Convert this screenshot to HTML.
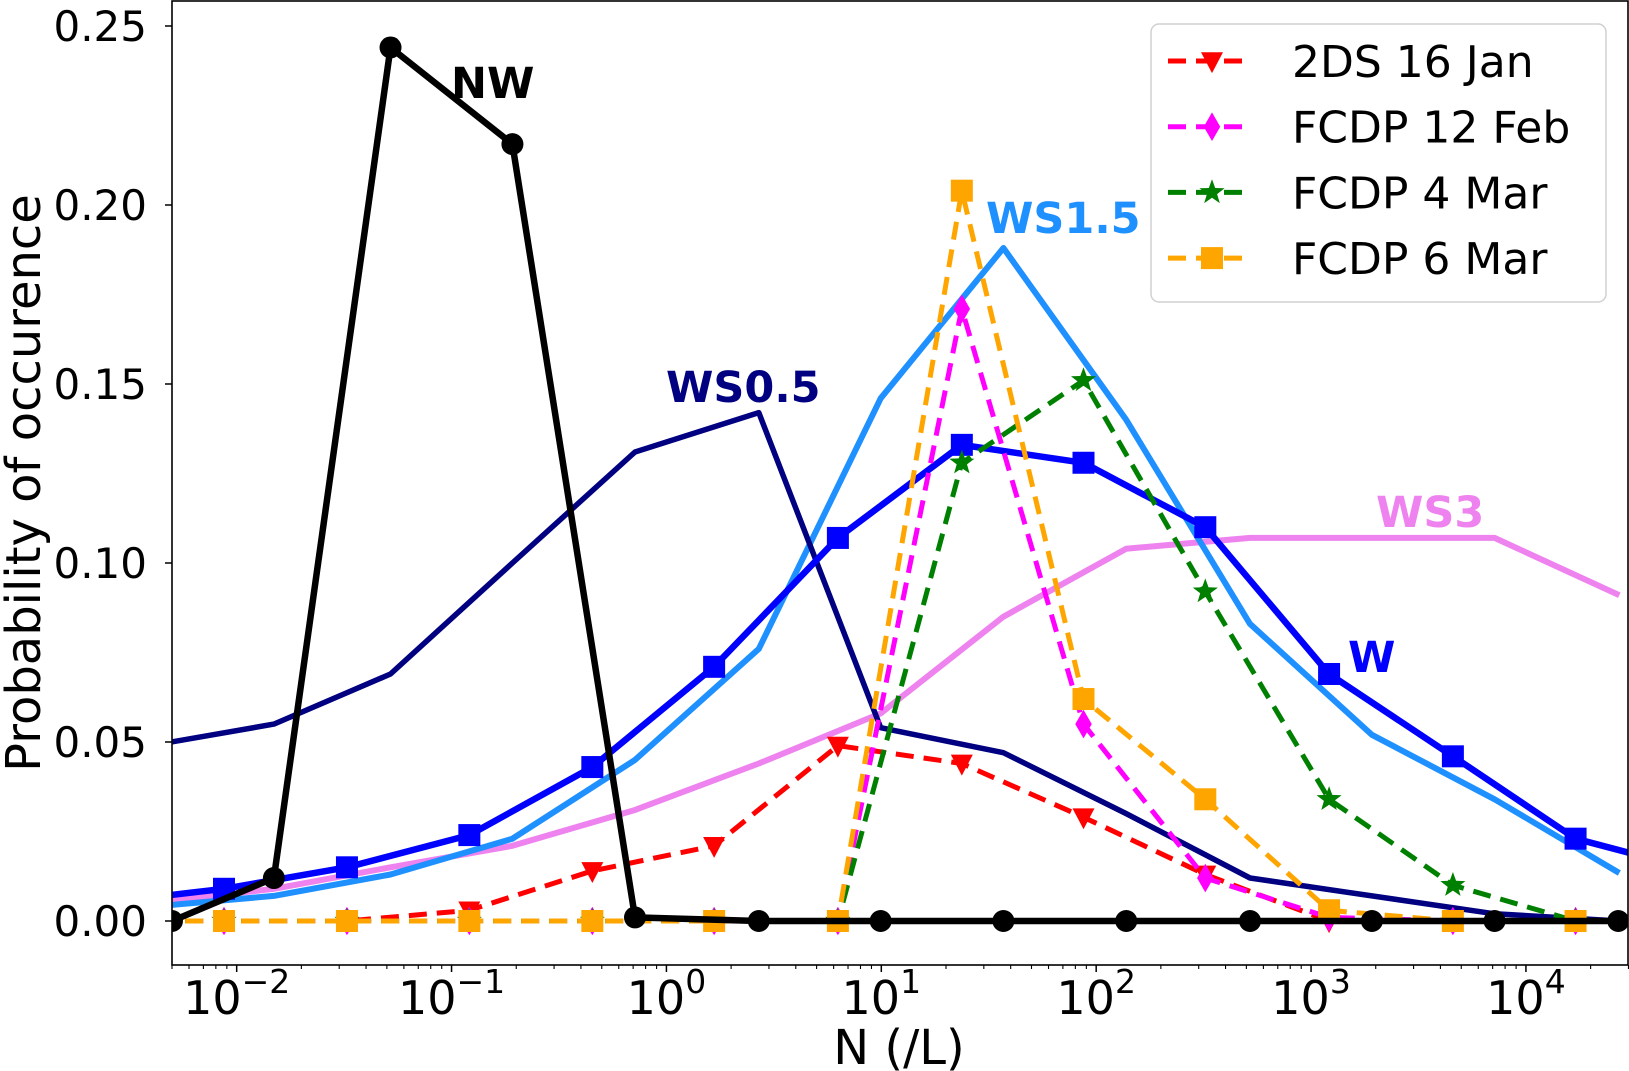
<!DOCTYPE html>
<html><head><meta charset="utf-8"><style>
html,body{margin:0;padding:0;background:#fff;}
svg{display:block;font-family:"DejaVu Sans","Liberation Sans",sans-serif;}
</style></head><body>
<svg id="chart" width="1629" height="1071" viewBox="0 0 1629 1071">
<defs><clipPath id="clip"><rect x="172" y="1" width="1456" height="964"/></clipPath></defs>
<g id="plot" clip-path="url(#clip)"></g>
<g id="axes"></g>
</svg>
<script>
// ---- data ----
const nwX = [0.0050,0.0149,0.0520,0.192,0.714,2.69,9.93,37.0,138,520,1919,7145,26900];
const nwY = [0,0.012,0.244,0.217,0.001,0,0,0,0,0,0,0,0];
const wsX = [0.00398,0.0149,0.0520,0.192,0.714,2.69,9.93,37.0,138,520,1919,7145,27200];
const ws05Y = [0.049,0.055,0.069,0.100,0.131,0.142,0.054,0.047,0.030,0.012,0.007,0.002,0.000];
const ws15Y = [0.004,0.007,0.013,0.023,0.045,0.076,0.146,0.188,0.140,0.083,0.052,0.034,0.0134];
const ws3Y  = [0.005,0.009,0.015,0.021,0.031,0.044,0.058,0.085,0.104,0.107,0.107,0.107,0.091];
const wX = [0.00234,0.00873,0.0326,0.121,0.452,1.667,6.28,23.7,87.3,322,1213,4571,17020,63200];
const wY = [0.005,0.009,0.015,0.024,0.043,0.071,0.107,0.133,0.128,0.110,0.069,0.046,0.023,0.014];
const ds16Y = [0,0,0,0.003,0.014,0.021,0.049,0.044,0.029,0.013,0,0,0,0];
const f12Y  = [0,0,0,0,0,0,0,0.171,0.055,0.012,0.001,0,0,0];
const f4Y   = [0,0,0,0,0,0,0,0.128,0.151,0.092,0.034,0.010,0,0];
const f6Y   = [0,0,0,0,0,0,0,0.204,0.062,0.034,0.003,0,0,0];
const yTicks = [0,0.05,0.10,0.15,0.20,0.25];
const yTickLabels = ["0.00","0.05","0.10","0.15","0.20","0.25"];
const xTickExp = [-2,-1,0,1,2,3,4];
const legendLabels = ["2DS 16 Jan","FCDP 12 Feb","FCDP 4 Mar","FCDP 6 Mar"];

// ---- axes ----
const L=172,R=1628,T=1,B=965;
const lmin=-2.301,lmax=4.475, ymin=-0.01229, ymax=0.25698;
const X=v=>L+(Math.log10(v)-lmin)/(lmax-lmin)*(R-L);
const Y=v=>B-(v-ymin)/(ymax-ymin)*(B-T);
const NS="http://www.w3.org/2000/svg";
function mk(tag,attrs,parent){const e=document.createElementNS(NS,tag);for(const k in attrs)e.setAttribute(k,attrs[k]);parent.appendChild(e);return e;}
const plot=document.getElementById('plot'), axes=document.getElementById('axes');

function series(xs,ys,color,w,dash,marker,ms,name){
  const g=mk('g',{},plot);
  
  
  const pts=xs.map((x,i)=>X(x).toFixed(1)+','+Y(ys[i]).toFixed(1)).join(' ');
  const a={points:pts,fill:'none',stroke:color,'stroke-width':w,'stroke-linejoin':'round'};
  if(dash)a['stroke-dasharray']=dash;
  const pl=mk('polyline',a,g);
  
  
  if(marker){xs.forEach((x,i)=>{const m=drawMarker(g,marker,X(x),Y(ys[i]),ms,color);
    
    });}
}
function drawMarker(g,type,cx,cy,s,color){
  if(type==='o')return mk('circle',{cx:cx,cy:cy,r:s,fill:color},g);
  if(type==='s')return mk('rect',{x:cx-s,y:cy-s,width:2*s,height:2*s,fill:color},g);
  if(type==='v')return mk('polygon',{points:`${cx-s},${cy-s*0.8} ${cx+s},${cy-s*0.8} ${cx},${cy+s*1.1}`,fill:color},g);
  if(type==='d')return mk('polygon',{points:`${cx},${cy-s*1.3} ${cx+s*0.75},${cy} ${cx},${cy+s*1.3} ${cx-s*0.75},${cy}`,fill:color},g);
  if(type==='*'){let p=[];for(let i=0;i<10;i++){const r=i%2?s*0.45:s*1.1,a=-Math.PI/2+i*Math.PI/5;p.push((cx+r*Math.cos(a)).toFixed(1)+','+(cy+r*Math.sin(a)).toFixed(1));}
    return mk('polygon',{points:p.join(' '),fill:color},g);}
}
series(wsX,ws3Y,'#ee82ee',6,null,null,0,'series-ws3');
series(wsX,ws15Y,'#1e90ff',6,null,null,0,'series-ws1.5');
series(wsX,ws05Y,'#000080',5.5,null,null,0,'series-ws0.5');
series(wX,wY,'#0000ff',6.5,null,'s',11,'series-w');
series(wX,ds16Y,'#ff0000',5,'18,10','v',11,'series-2ds-16jan');
series(wX,f12Y,'#ff00ff',5,'18,10','d',11,'series-fcdp-12feb');
series(wX,f4Y,'#008000',5,'18,10','*',12,'series-fcdp-4mar');
series(wX,f6Y,'#ffa500',5,'18,10','s',11,'series-fcdp-6mar');
series(nwX,nwY,'#000000',6.5,null,'o',11,'series-nw');

// frame
const fr=mk('rect',{x:L,y:T,width:R-L,height:B-T,fill:'none',stroke:'#000','stroke-width':1.6},axes);


// y ticks
yTicks.forEach((v,i)=>{const y=Y(v);
  mk('line',{x1:L-7,x2:L,y1:y,y2:y,stroke:'#000','stroke-width':1.5},axes);
  const t=mk('text',{x:147,y:y+15,'font-size':42,'text-anchor':'end',fill:'#000'},axes);
  t.textContent=yTickLabels[i];
  
  
});
// x ticks
for(let e=-3;e<=4;e++){for(let m=1;m<10;m++){const v=m*Math.pow(10,e),x=X(v);if(x<L-0.5||x>R+0.5)continue;
  mk('line',{x1:x,x2:x,y1:B,y2:B+(m===1?7:4),stroke:'#000','stroke-width':m===1?1.5:1.1},axes);}}
xTickExp.forEach(e=>{const x=X(Math.pow(10,e));
  const t=mk('text',{x:x,y:1014,'font-size':46,'text-anchor':'middle',fill:'#000'},axes);
  
  
  const a=document.createElementNS(NS,'tspan');a.textContent='10';t.appendChild(a);
  const b=document.createElementNS(NS,'tspan');b.setAttribute('dy','-21');b.setAttribute('font-size','33');b.textContent=(e<0?'\u2212':'')+Math.abs(e);t.appendChild(b);
});

const svg=document.getElementById('chart');
function txt(x,y,s,attrs,name){const t=document.createElementNS(NS,'text');
  for(const k in attrs)t.setAttribute(k,attrs[k]);t.setAttribute('x',x);t.setAttribute('y',y);t.textContent=s;
  
  
  svg.appendChild(t);return t;}
txt(899,1064,'N (/L)',{'font-size':48,'text-anchor':'middle'},'x-axis-title');
txt(40,483,'Probability of occurence',{'font-size':48,'text-anchor':'middle',transform:'rotate(-90 40 483)'},'y-axis-title');
txt(451,98,'NW',{'font-size':43,'font-weight':'bold',fill:'#000'},'label-nw');
txt(986,233,'WS1.5',{'font-size':43,'font-weight':'bold',fill:'#1e90ff'},'label-ws1.5');
txt(666,402,'WS0.5',{'font-size':43,'font-weight':'bold',fill:'#000080'},'label-ws0.5');
txt(1376,527,'WS3',{'font-size':43,'font-weight':'bold',fill:'#ee82ee'},'label-ws3');
txt(1348,672,'W',{'font-size':43,'font-weight':'bold',fill:'#0000ff'},'label-w');
// legend
const lg=mk('g',{},svg);


mk('rect',{x:1151,y:24,width:455,height:278,rx:8,fill:'#fff','fill-opacity':0.85,stroke:'#d0d0d0','stroke-width':1.5},lg);
const lc=['#ff0000','#ff00ff','#008000','#ffa500'], lm=['v','d','*','s'];
legendLabels.forEach((s,i)=>{const y=61+i*65.7;
  const g=mk('g',{},lg);
  
  
  mk('line',{x1:1168,x2:1248,y1:y,y2:y,stroke:lc[i],'stroke-width':5,'stroke-dasharray':'18,10'},g);
  drawMarker(g,lm[i],1212,y,i===2?12:11,lc[i]);
  const t=mk('text',{x:1292,y:y+16,'font-size':44,fill:'#000'},g);t.textContent=s;
});
</script>
</body></html>
